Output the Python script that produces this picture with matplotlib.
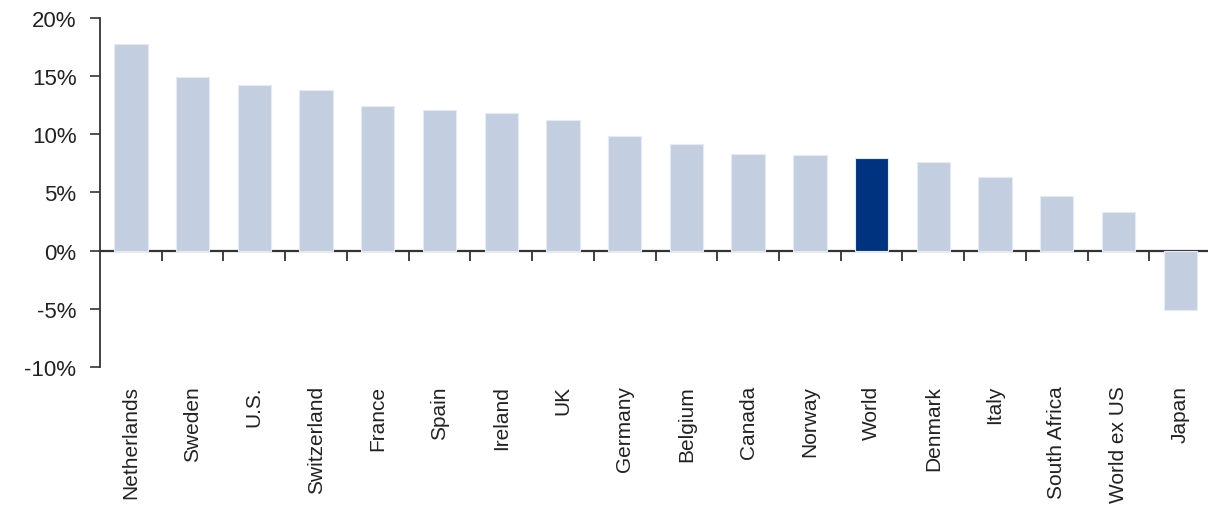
import numpy as np
import matplotlib.pyplot as plt
from matplotlib.ticker import FuncFormatter

plt.rcParams['font.family'] = ['Liberation Sans', 'DejaVu Sans']

# returns by market, sorted high to low
countries = ['Netherlands', 'Sweden', 'U.S.', 'Switzerland', 'France', 'Spain',
             'Ireland', 'UK', 'Germany', 'Belgium', 'Canada', 'Norway', 'World',
             'Denmark', 'Italy', 'South Africa', 'World ex US', 'Japan']
returns = [17.7, 14.9, 14.2, 13.8, 12.4, 12.1, 11.8, 11.2, 9.8, 9.1, 8.3, 8.2,
           7.9, 7.6, 6.3, 4.7, 3.3, -5.1]
highlight = 'World'

light = '#c3cee0'
dark = '#00337f'
axis_col = '#333333'

fig = plt.figure(figsize=(12.08, 5.10), dpi=100)
ax = fig.add_axes([0.0828, 0.2784, 0.9172, 0.6853])

x = np.arange(len(countries))
cols = [dark if c == highlight else light for c in countries]
ax.bar(x, returns, width=0.54, color=cols, edgecolor='#e6ebf3', linewidth=0.8, zorder=2)

ax.set_xlim(-0.5, len(countries) - 0.55)
ax.set_ylim(-10, 20)
ax.set_yticks(np.arange(-10, 21, 5))
ax.yaxis.set_major_formatter(FuncFormatter(lambda v, p: '%d%%' % v))
ax.tick_params(axis='y', direction='out', length=7, width=1.2, color=axis_col,
               labelsize=16, pad=10, labelcolor='#222222')

for s in ['top', 'right', 'bottom']:
    ax.spines[s].set_visible(False)
ax.spines['left'].set_color(axis_col)
ax.spines['left'].set_linewidth(1.3)

# country names under the plot area
ax.set_xticks(x)
ax.set_xticklabels(countries, rotation=90, va='top', color='#222222',
                   family=['Liberation Sans Narrow', 'Liberation Sans'], fontsize=15)
ax.tick_params(axis='x', length=0, pad=13)

# zero line carrying the category separators
zero = ax.secondary_xaxis(1 / 3)
zero.spines['bottom'].set_color(axis_col)
zero.spines['bottom'].set_linewidth(1.6)
zero.set_xticks(x[:-1] + 0.5)
zero.set_xticklabels([])
zero.tick_params(axis='x', direction='out', length=7, width=1.3, color=axis_col)

fig.savefig('out.png', dpi=100)
